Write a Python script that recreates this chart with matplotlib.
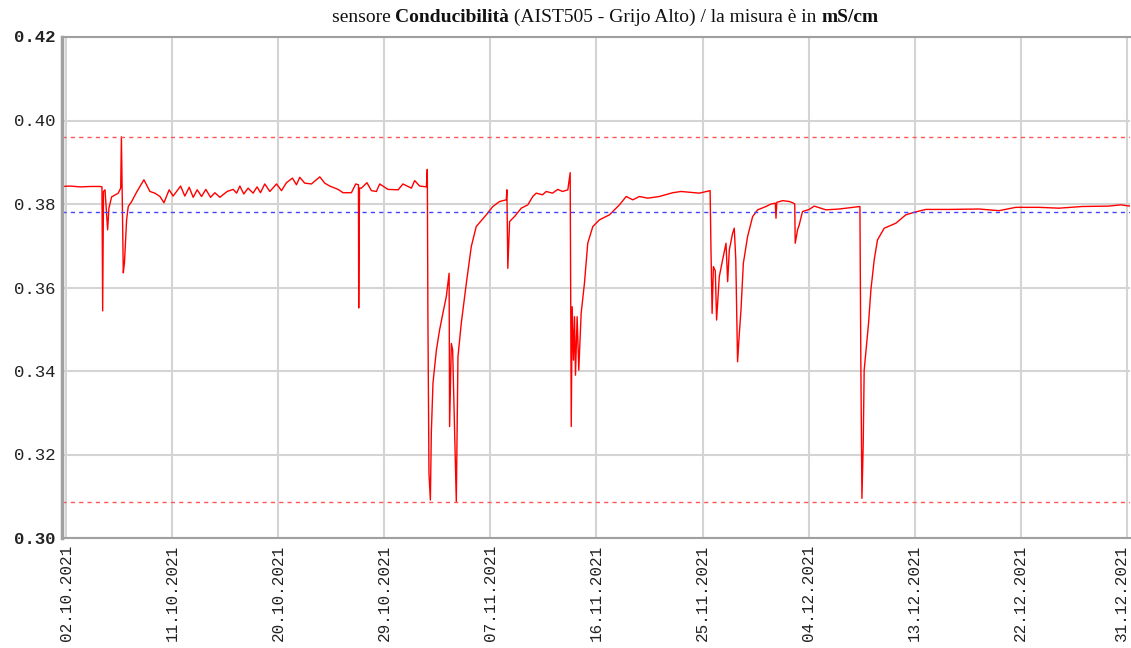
import numpy as np
import pandas as pd
import matplotlib
matplotlib.use("Agg")
import matplotlib.pyplot as plt
import matplotlib.dates as mdates
import matplotlib.transforms as mtransforms

# conductivity readings, days counted from 02.10.2021 00:00
days = [-0.34, 0.34, 1.2, 2.1, 2.88, 3.05, 3.11, 3.18, 3.31, 3.53, 3.64, 3.87, 4.43, 4.64, 4.70,
        4.86, 4.96, 5.14, 5.28, 5.57, 6.02, 6.61, 7.12, 7.54, 7.97, 8.31, 8.75, 9.09, 9.72, 10.08,
        10.45, 10.79, 11.13, 11.50, 11.86, 12.26, 12.63, 13.05, 13.67, 14.18, 14.47, 14.75, 15.08,
        15.45, 15.87, 16.21, 16.50, 16.86, 17.29, 17.86, 18.28, 18.70, 19.21, 19.55, 19.83, 20.25,
        20.82, 21.53, 21.95, 22.37, 23.08, 23.50, 24.21, 24.58, 24.81, 24.83, 24.86, 24.90, 25.06,
        25.53, 25.91, 26.33, 26.61, 27.31, 28.18, 28.58, 29.30, 29.58, 30.00, 30.57, 30.65, 30.70,
        30.79, 30.91, 30.99, 31.13, 31.42, 31.69, 31.97, 32.26, 32.50, 32.54, 32.69, 32.80, 32.97,
        33.11, 33.25, 33.53, 33.96, 34.38, 34.80, 35.65, 36.21, 36.78, 37.35, 37.40, 37.48, 37.63,
        38.05, 38.62, 39.18, 39.60, 39.89, 40.42, 40.74, 41.27, 41.72, 42.12, 42.57, 42.77, 42.86,
        42.94, 43.05, 43.14, 43.22, 43.36, 43.50, 43.70, 43.98, 44.26, 44.69, 45.25, 46.10, 46.95,
        47.52, 48.08, 48.64, 49.35, 50.34, 51.47, 52.18, 53.73, 54.64, 54.72, 54.81, 54.92, 55.08,
        55.19, 55.42, 55.70, 55.99, 56.13, 56.27, 56.55, 56.69, 56.82, 56.97, 57.12, 57.26, 57.46,
        57.82, 58.25, 58.67, 59.38, 59.81, 60.17, 60.23, 60.30, 60.79, 61.36, 61.64, 61.82, 61.86,
        62.06, 62.20, 62.48, 63.05, 63.47, 64.47, 65.59, 66.72, 67.35, 67.43, 67.52, 67.63, 67.71,
        68.08, 68.28, 68.56, 68.84, 69.41, 70.40, 71.24, 71.81, 72.94, 74.92, 77.46, 79.15, 80.57,
        82.54, 84.24, 86.21, 88.47, 89.47, 90.25]
values = [0.3842, 0.3843, 0.3841, 0.3842, 0.3842, 0.3841, 0.3544, 0.3830, 0.3834, 0.3738, 0.3790,
          0.3817, 0.3826, 0.3838, 0.3961, 0.3635, 0.3660, 0.3762, 0.3794, 0.3806, 0.3830, 0.3858,
          0.3830, 0.3826, 0.3818, 0.3803, 0.3834, 0.3819, 0.3843, 0.3819, 0.3840, 0.3816, 0.3834,
          0.3818, 0.3835, 0.3816, 0.3827, 0.3816, 0.3830, 0.3835, 0.3826, 0.3843, 0.3824, 0.3838,
          0.3826, 0.3841, 0.3827, 0.3848, 0.3830, 0.3848, 0.3832, 0.3851, 0.3862, 0.3846, 0.3864,
          0.3850, 0.3848, 0.3865, 0.3850, 0.3843, 0.3835, 0.3827, 0.3827, 0.3848, 0.3846, 0.3551,
          0.3700, 0.3838, 0.3838, 0.3851, 0.3832, 0.3830, 0.3848, 0.3835, 0.3834, 0.3848, 0.3838,
          0.3856, 0.3843, 0.3841, 0.3883, 0.3534, 0.3155, 0.3091, 0.3251, 0.3371, 0.3450, 0.3498,
          0.3538, 0.3578, 0.3634, 0.3267, 0.3466, 0.3450, 0.3251, 0.3087, 0.3434, 0.3514, 0.3610,
          0.3698, 0.3746, 0.3774, 0.3794, 0.3806, 0.3810, 0.3834, 0.3646, 0.3758, 0.3770, 0.3790,
          0.3798, 0.3818, 0.3826, 0.3822, 0.3830, 0.3826, 0.3835, 0.3830, 0.3834, 0.3875, 0.3267,
          0.3554, 0.3426, 0.3530, 0.3390, 0.3530, 0.3402, 0.3538, 0.3610, 0.3706, 0.3746, 0.3762,
          0.3774, 0.3798, 0.3818, 0.3810, 0.3818, 0.3814, 0.3818, 0.3827, 0.3830, 0.3826, 0.3832,
          0.3682, 0.3538, 0.3650, 0.3640, 0.3522, 0.3626, 0.3666, 0.3706, 0.3614, 0.3690, 0.3730,
          0.3742, 0.3666, 0.3422, 0.3490, 0.3546, 0.3658, 0.3722, 0.3770, 0.3786, 0.3794, 0.3800,
          0.3802, 0.3766, 0.3804, 0.3808, 0.3806, 0.3803, 0.3800, 0.3706, 0.3738, 0.3750, 0.3782,
          0.3787, 0.3795, 0.3786, 0.3788, 0.3792, 0.3794, 0.3410, 0.3095, 0.3227, 0.3402, 0.3514,
          0.3594, 0.3666, 0.3714, 0.3742, 0.3754, 0.3774, 0.3779, 0.3787, 0.3787, 0.3788, 0.3784,
          0.3792, 0.3792, 0.3790, 0.3794, 0.3795, 0.3798, 0.3795]

upper_limit = 0.3960
lower_limit = 0.3086
mean_line = 0.3781

tick_dates = ["2021-10-02", "2021-10-11", "2021-10-20", "2021-10-29", "2021-11-07", "2021-11-16",
              "2021-11-25", "2021-12-04", "2021-12-13", "2021-12-22", "2021-12-31"]
y_ticks = [0.30, 0.32, 0.34, 0.36, 0.38, 0.40, 0.42]

start = pd.Timestamp("2021-10-02")
t = start + pd.to_timedelta(days, unit="D")

fig = plt.figure(figsize=(11.31, 6.48), dpi=100)
ax = fig.add_axes([62 / 1131, 1 - 538 / 648, 1 - 62 / 1131 - 0.001, (538 - 37) / 648])

ax.plot(t, values, color="red", lw=1.0)
ax.axhline(upper_limit, color="#ff5555", lw=1.0, ls=(0, (3, 3)))
ax.axhline(lower_limit, color="#ff5555", lw=1.0, ls=(0, (3, 3)))
ax.axhline(mean_line, color="#4444ff", lw=1.0, ls=(0, (3, 3)))

ax.set_xlim(start + pd.Timedelta(days=-0.34), start + pd.Timedelta(days=90.25))
ax.set_ylim(0.30, 0.42)

ax.set_xticks(pd.to_datetime(tick_dates))
ax.xaxis.set_major_formatter(mdates.DateFormatter("%d.%m.%Y"))
ax.set_yticks(y_ticks)
ax.set_yticklabels(["%.2f" % v for v in y_ticks])
ax.grid(True, color="#d4d4d4", lw=1.5)
ax.set_axisbelow(True)
ax.tick_params(length=0, pad=5, colors="#222222")
for lab in ax.get_yticklabels():
    lab.set_family("Liberation Mono")
    lab.set_fontsize(12.5)
for lab in ax.get_xticklabels():
    lab.set_family("Liberation Mono")
    lab.set_fontsize(11.5)
    lab.set_rotation(90)
# keep the last date label inside the picture
last = ax.get_xticklabels()[-1]
last.set_transform(last.get_transform() + mtransforms.ScaledTranslation(-5 / 100, 0, fig.dpi_scale_trans))
ylabs = ax.get_yticklabels()
ylabs[0].set_fontweight("bold")
ylabs[-1].set_fontweight("bold")
ylabs[-1].set_va("center")

for s in ["left", "bottom", "top"]:
    ax.spines[s].set_color("#a0a0a0")
    ax.spines[s].set_linewidth(1.5)
ax.spines["left"].set_linewidth(2.5)
ax.spines["right"].set_visible(False)

# title with bold parts
parts = [("sensore ", "normal"), ("Conducibilità", "bold"),
         (" (AIST505 - Grijo Alto) / la misura è in ", "normal"), ("mS/cm", "bold")]
renderer = fig.canvas.get_renderer()
texts = []
for s, w in parts:
    texts.append(fig.text(0, 1 - 17 / 648, s, family="Liberation Serif", fontsize=14,
                          fontweight=w, va="center", ha="left", color="#111111"))
widths = [tx.get_window_extent(renderer).width / fig.bbox.width for tx in texts]
x0 = 605 / 1131 - sum(widths) / 2
for tx, w in zip(texts, widths):
    tx.set_x(x0)
    x0 += w

fig.savefig("out.png", dpi=100)
